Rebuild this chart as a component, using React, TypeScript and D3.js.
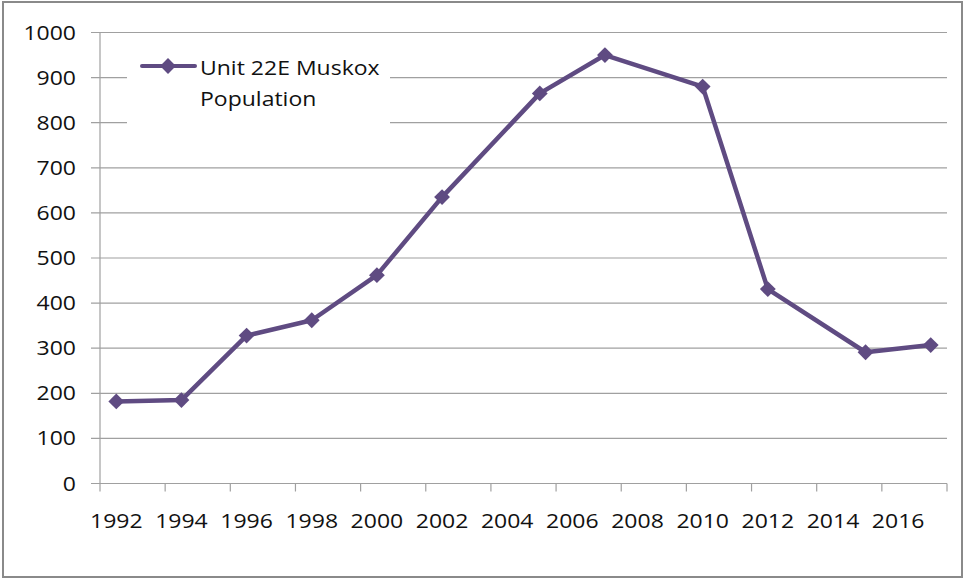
import { useEffect, useRef } from "react";
import * as d3 from "d3";

// survey years and counts
const years: number[] = [1992, 1994, 1996, 1998, 2000, 2002, 2005, 2007, 2010, 2012, 2015, 2017];
const population: number[] = [182, 185, 328, 362, 462, 635, 865, 950, 880, 431, 291, 307];
const yTicks: number[] = [0, 100, 200, 300, 400, 500, 600, 700, 800, 900, 1000];
const xTickLabels: string[] = ["1992", "1994", "1996", "1998", "2000", "2002", "2004", "2006", "2008", "2010", "2012", "2014", "2016"];
const seriesName: string[] = ["Unit 22E Muskox", "Population"];

function App() {
  const svgRef = useRef<SVGSVGElement>(null);

  useEffect(() => {
    if (!svgRef.current) return;
    const svg = d3.select(svgRef.current);
    svg.selectAll("*").remove();

    const width = 964;
    const height = 579;
    svg.attr("width", width).attr("height", height);

    const font = "'Open Sans', sans-serif";
    const textColor = "#111";
    const gridColor = "#a0a0a0";
    const purple = "#5f4b82";

    // outer frame
    svg.append("rect")
      .attr("x", 3).attr("y", 2).attr("width", 959).attr("height", 575)
      .attr("fill", "#fff").attr("stroke", "#8a8a8a").attr("stroke-width", 2);

    // date-style axis: each year is a slot, points sit in the slot centre
    const x = d3.scaleLinear().domain([1992, 2018]).range([100, 947]);
    const y = d3.scaleLinear().domain([0, 1000]).range([483.5, 32.5]);

    // horizontal gridlines + y tick marks
    svg.append("g").selectAll("line")
      .data(yTicks)
      .join("line")
      .attr("x1", 91).attr("x2", 947)
      .attr("y1", (d) => y(d)).attr("y2", (d) => y(d))
      .attr("stroke", gridColor).attr("stroke-width", 1.2);

    // y axis line
    svg.append("line")
      .attr("x1", 100).attr("x2", 100)
      .attr("y1", y(1000)).attr("y2", y(0))
      .attr("stroke", gridColor).attr("stroke-width", 1.2);

    // x tick marks every two years
    const xTickPos = d3.range(1992, 2019, 2);
    svg.append("g").selectAll("line")
      .data(xTickPos)
      .join("line")
      .attr("x1", (d) => x(d)).attr("x2", (d) => x(d))
      .attr("y1", y(0)).attr("y2", y(0) + 8)
      .attr("stroke", gridColor).attr("stroke-width", 1.2);

    // y labels
    svg.append("g").selectAll("text")
      .data(yTicks)
      .join("text")
      .attr("transform", (d) => `translate(76,${y(d) + 7}) scale(1.15,1)`)
      .attr("text-anchor", "end")
      .attr("font-family", font).attr("font-size", 20)
      .attr("fill", textColor)
      .text((d) => d);

    // x labels
    svg.append("g").selectAll("text")
      .data(xTickLabels)
      .join("text")
      .attr("transform", (d) => `translate(${x(+d + 0.5)},528) scale(1.15,1)`)
      .attr("text-anchor", "middle")
      .attr("font-family", font).attr("font-size", 20)
      .attr("fill", textColor)
      .text((d) => d);

    const diamond = d3.symbol(d3.symbolSquare, 125)();

    // legend box (white, hides gridlines behind it)
    const lg = svg.append("g");
    lg.append("rect")
      .attr("x", 127).attr("y", 41).attr("width", 263).attr("height", 85)
      .attr("fill", "#fff");
    lg.append("line")
      .attr("x1", 142).attr("x2", 195).attr("y1", 66).attr("y2", 66)
      .attr("stroke", purple).attr("stroke-width", 4).attr("stroke-linecap", "round");
    lg.append("path")
      .attr("d", diamond)
      .attr("transform", "translate(168,66) rotate(45)")
      .attr("fill", purple);
    lg.selectAll("text")
      .data(seriesName)
      .join("text")
      .attr("transform", (_, i) => `translate(200,${75 + i * 31}) scale(1.15,1)`)
      .attr("font-family", font).attr("font-size", 20)
      .attr("fill", textColor)
      .text((d) => d);

    // series line
    const pts = years.map((yr, i) => [x(yr + 0.5), y(population[i])] as [number, number]);
    svg.append("path")
      .attr("d", d3.line()(pts))
      .attr("fill", "none")
      .attr("stroke", purple)
      .attr("stroke-width", 4.5)
      .attr("stroke-linejoin", "round");

    // diamond markers
    svg.append("g").selectAll("path")
      .data(pts)
      .join("path")
      .attr("d", diamond)
      .attr("transform", (d) => `translate(${d[0]},${d[1]}) rotate(45)`)
      .attr("fill", purple);
  }, []);

  return (
    <svg
      ref={svgRef}
      style={{ position: "absolute", left: 0, top: 0, display: "block" }}
    ></svg>
  );
}

export default App;
